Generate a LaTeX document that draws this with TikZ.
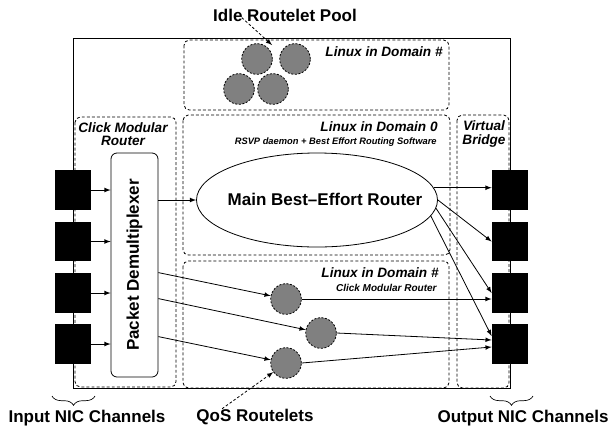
\documentclass[tikz,border=0pt]{standalone}
\usepackage{fontspec}
\usepackage{graphicx}
\setmainfont{Liberation Sans}
\usetikzlibrary{calc,shapes.geometric,decorations.pathreplacing}

\definecolor{rtgray}{RGB}{128,128,128}

\tikzset{
  nic/.style={draw=black,fill=black,minimum width=26.25pt,minimum height=29pt,inner sep=0pt},
  demuxbox/.style={draw,rounded corners=4.5pt,minimum width=35.25pt,minimum height=168pt,inner sep=0pt,font=\fontsize{12.75}{14}\selectfont\bfseries},
  routelet/.style={circle,draw,dash pattern=on 1.5pt off 1.2pt,fill=rtgray,minimum size=23pt,inner sep=0pt},
  dombox/.style={dash pattern=on 2.2pt off 1.6pt,rounded corners=4pt},
  biglbl/.style={inner sep=0pt,font=\fontsize{12.75}{14}\selectfont\bfseries},
  domlbl/.style={inner sep=0pt,align=center,font=\fontsize{10.2}{9.9}\selectfont\bfseries\itshape},
  smalllbl/.style={inner sep=0pt,font=\fontsize{7}{8}\selectfont\bfseries\itshape},
  pointer/.style={->,dash pattern=on 2pt off 1.5pt}
}

\begin{document}
\begin{tikzpicture}[x=0.75pt,y=0.75pt,yscale=-1,xscale=1,>=latex,line width=0.6pt]
\useasboundingbox (0,0) rectangle (609,429);

%outer box
\draw (73,38) rectangle (510,388);

%domain boxes
\draw [dombox] (184,40) rectangle (449,110);
\draw [dombox] (75,117) rectangle (176,387);
\draw [dombox] (183,115) rectangle (450,255);
\draw [dombox] (183,261) rectangle (449,388);
\draw [dombox] (457,115) rectangle (509,388);

% box titles
\node [domlbl,anchor=east] (poolttl) at (443,52) {Linux in Domain \#};
\node [domlbl] (clickttl) at (123,134.5) {Click Modular\\Router};
\node [domlbl] (bridgettl) at (484,134) {Virtual\\Bridge};
\node [domlbl,anchor=east] (dom0ttl) at (438,127) {Linux in Domain 0};
\node [smalllbl,anchor=east] (dom0sub) at (437,142) {RSVP daemon + Best Effort Routing Software};
\node [domlbl,anchor=east] (qosttl) at (439,273) {Linux in Domain \#};
\node [smalllbl,anchor=east,font=\fontsize{7.5}{8}\selectfont\bfseries\itshape] (qossub) at (437,288) {Click Modular Router};

% NIC channels
\node [nic] (inN1) at (72.5,190) {};
\node [nic] (inN2) at (72.5,241.5) {};
\node [nic] (inN3) at (72.5,293) {};
\node [nic] (inN4) at (72.5,344) {};
\node [nic] (outN1) at (509.5,190) {};
\node [nic] (outN2) at (509.5,241.5) {};
\node [nic] (outN3) at (509.5,293) {};
\node [nic] (outN4) at (509.5,344) {};

% demux and main router
\node [demuxbox] (demux) at (134.5,265) {\rotatebox{90}{Packet Demultiplexer}};
\node [draw,ellipse,minimum width=180.75pt,minimum height=70.5pt,inner sep=0pt] (main) at (317,200) {};
\node [biglbl] (mainlbl) at (325,199) {Main Best--Effort Router};

% routelets
\node [routelet] (idle1) at (257,59) {};
\node [routelet] (idle2) at (295,59) {};
\node [routelet] (idle3) at (239,89) {};
\node [routelet] (idle4) at (273,89) {};
\node [routelet] (qos1) at (286,299) {};
\node [routelet] (qos2) at (321,333) {};
\node [routelet] (qos3) at (286,363) {};

% input side
\foreach \i in {1,...,4}
  \draw [->] (inN\i.east) -- (inN\i.east -| demux.west);
\draw [->] (demux.east |- main.west) -- (main.west);
\draw [->] ($(demux.north east)+(0,120)$) -- (qos1);
\draw [->] ($(demux.north east)+(0,146)$) -- (qos2);
\draw [->] ($(demux.north east)+(0,184)$) -- (qos3);

% output side
\draw [->] (main.6) -- (main.6 -| outN1.west);
\draw [->] (main.east) -- (outN2.west);
\draw [->] (main.-4) -- (outN3.west);
\draw [->] (main.-8) -- ($(outN4.west)+(0,-8)$);
\draw [->] (qos1.east) -- (qos1.east -| outN3.west);
\draw [->] (qos2.east) -- ($(outN4.west)+(0,-4)$);
\draw [->] (qos3.east) -- ($(outN4.west)+(0,3)$);

% captions
\node [biglbl] (idlelbl) at (285,15) {Idle Routelet Pool};
\coordinate (idletip) at (272,45);
\draw [pointer] ($(idlelbl.south west)+(29,-4)$) -- (idletip);
\node [biglbl] (inlbl) at (87,418) {Input NIC Channels};
\node [biglbl] (qoslbl) at (255,417) {QoS Routelets};
\draw [pointer] ($(qoslbl.north west)+(26,0)$) -- (qos3);
\node [biglbl] (outlbl) at (523,418) {Output NIC Channels};
\draw [decorate,decoration={brace,amplitude=7pt},line width=0.5pt] (95,396) -- (52,396);
\draw [decorate,decoration={brace,amplitude=7pt},line width=0.5pt] (533,396) -- (490,396);

\end{tikzpicture}
\end{document}
